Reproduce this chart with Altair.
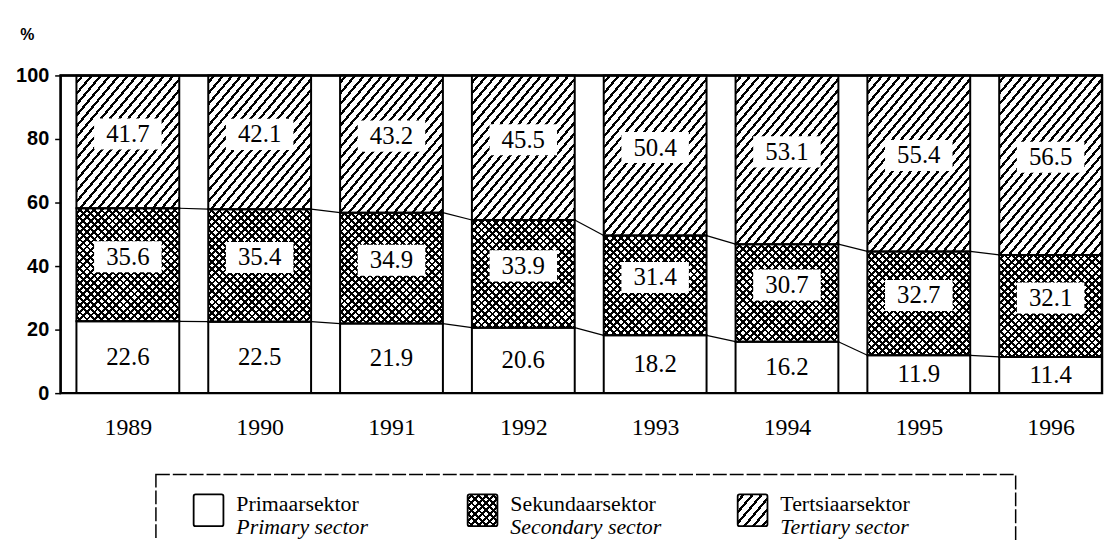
import math
import altair as alt
import pandas as pd

# ---------------- data ----------------
years = [1989, 1990, 1991, 1992, 1993, 1994, 1995, 1996]
primary = [22.6, 22.5, 21.9, 20.6, 18.2, 16.2, 11.9, 11.4]
secondary = [35.6, 35.4, 34.9, 33.9, 31.4, 30.7, 32.7, 32.1]
tertiary = [41.7, 42.1, 43.2, 45.5, 50.4, 53.1, 55.4, 56.5]
y_ticks = [0, 20, 40, 60, 80, 100]
legend_et = ["Primaarsektor", "Sekundaarsektor", "Tertsiaarsektor"]
legend_en = ["Primary sector", "Secondary sector", "Tertiary sector"]

# ---------------- layout constants ----------------
W, H = 1049, 320
X_DOMAIN = [1988.49, 1996.39]
HALF = 0.39
PX_PER_YEAR = W / (X_DOMAIN[1] - X_DOMAIN[0])
PX_PER_PCT = H / 100.0
BAR_W = 2 * HALF * PX_PER_YEAR
SERIF = "Liberation Serif"
SANS = "Liberation Sans"

rows = []
for i, yr in enumerate(years):
    p, s, t = primary[i], secondary[i], tertiary[i]
    rows.append(dict(year=yr, sector="P", value=p, y0=0.0, y1=p))
    rows.append(dict(year=yr, sector="S", value=s, y0=p, y1=p + s))
    rows.append(dict(year=yr, sector="T", value=t, y0=p + s, y1=p + s + t))
df = pd.DataFrame(rows)
df["x0"] = df["year"] - HALF
df["x1"] = df["year"] + HALF
df["mid"] = (df["y0"] + df["y1"]) / 2
df["label"] = df["value"].map(lambda v: f"{v:.1f}")

# connecting lines between bars
lines = []
for i in range(len(years) - 1):
    lev_a = [primary[i], primary[i] + secondary[i]]
    lev_b = [primary[i + 1], primary[i + 1] + secondary[i + 1]]
    for a, b in zip(lev_a, lev_b):
        lines.append(dict(xa=years[i] + HALF, xb=years[i + 1] - HALF, ya=a, yb=b))
lines_df = pd.DataFrame(lines)

# plot frame spans the full scale domains
frame_df = pd.DataFrame({"x0": [X_DOMAIN[0]], "x1": [X_DOMAIN[1]], "y0": [0.0], "y1": [100.0]})

xscale = alt.Scale(domain=X_DOMAIN, nice=False, zero=False)
yscale = alt.Scale(domain=[0, 100], nice=False, zero=True)
xaxis = alt.Axis(values=years, format="d", grid=False, domain=False, ticks=False,
                 tickSize=0, labelFlush=False, labelOverlap=False, labelFont=SERIF,
                 labelFontSize=24, labelColor="black", labelPadding=23, title=None)
yaxis = alt.Axis(values=y_ticks, grid=False, domain=False, ticks=True, tickSize=6,
                 tickWidth=1.5, tickColor="black", labelFont=SANS, labelFontWeight="bold",
                 labelFontSize=20, labelColor="black", labelPadding=6,
                 title="%", titleAngle=0, titleX=-34, titleY=-41, titleFont=SANS,
                 titleFontSize=16, titleFontWeight="bold", titleAlign="center",
                 titleBaseline="middle", titleColor="black")


def hatch(w, h, spacing, lw, angle_deg, direction, fg="black", bg="white"):
    th = math.radians(angle_deg)
    sn, cs = math.sin(th), math.cos(th)
    pmax = w * sn + h * cs
    k = pmax / (w * w * sn * sn + h * h * cs * cs)
    du, dv = k * w * sn, k * h * cs
    if direction == "/":
        coords = dict(x1=0, y1=0, x2=du, y2=dv)
    else:
        coords = dict(x1=0, y1=1, x2=du, y2=1 - dv)
    per = spacing / pmax
    lwt = lw / pmax
    stops = [dict(offset=0, color=bg)]
    t = per * 0.5
    while t < 1:
        a0, a1 = t, min(t + lwt, 1.0)
        stops += [dict(offset=a0, color=bg), dict(offset=a0, color=fg),
                  dict(offset=a1, color=fg), dict(offset=a1, color=bg)]
        t += per
    stops.append(dict(offset=1, color=bg))
    g = dict(gradient="linear", stops=stops)
    g.update(coords)
    return g


def enc_rect(base):
    return base.encode(
        x=alt.X("x0:Q", scale=xscale, axis=xaxis),
        x2="x1:Q",
        y=alt.Y("y0:Q", scale=yscale, axis=yaxis),
        y2="y1:Q",
    )


layers = []
one = pd.DataFrame({"k": [0]})
# white base for all segments
layers.append(enc_rect(alt.Chart(df).mark_rect(fill="white", strokeWidth=0)))

TRANS = "rgba(255,255,255,0)"
for i, yr in enumerate(years):
    # tertiary hatch
    h_t = tertiary[i] * PX_PER_PCT
    g = hatch(BAR_W, h_t, 7.0, 2.3, 50, "/")
    layers.append(enc_rect(alt.Chart(df[(df.year == yr) & (df.sector == "T")])
                           .mark_rect(fill=g, strokeWidth=0)))
    # secondary cross-hatch
    h_s = secondary[i] * PX_PER_PCT
    g1 = hatch(BAR_W, h_s, 5.2, 2.0, 45, "/", bg=TRANS)
    g2 = hatch(BAR_W, h_s, 5.2, 2.0, 45, "\\", bg=TRANS)
    sub = df[(df.year == yr) & (df.sector == "S")]
    layers.append(enc_rect(alt.Chart(sub).mark_rect(fill=g1, strokeWidth=0)))
    layers.append(enc_rect(alt.Chart(sub).mark_rect(fill=g2, strokeWidth=0)))

# outlines
layers.append(enc_rect(alt.Chart(df).mark_rect(fillOpacity=0, stroke="black", strokeWidth=2)))

# plot frame
layers.append(enc_rect(alt.Chart(frame_df).mark_rect(fill="white", fillOpacity=0,
                                                     stroke="black", strokeWidth=2.4)))

# connecting lines
layers.append(alt.Chart(lines_df).mark_rule(color="black", strokeWidth=1.2).encode(
    x=alt.X("xa:Q", scale=xscale, axis=xaxis), x2="xb:Q",
    y=alt.Y("ya:Q", scale=yscale, axis=yaxis), y2="yb:Q"))

# label boxes and labels
upper = df[df.sector != "P"]
lower = df[df.sector == "P"]
box_shape = "M-1,-0.46L1,-0.46L1,0.46L-1,0.46Z"
layers.append(alt.Chart(upper).mark_point(shape=box_shape, size=68 * 68, filled=True,
                                          fill="white", opacity=1, strokeWidth=0, yOffset=-8)
              .encode(x=alt.X("year:Q", scale=xscale, axis=xaxis),
                      y=alt.Y("mid:Q", scale=yscale, axis=yaxis)))
layers.append(alt.Chart(upper).mark_text(font=SERIF, fontSize=25, color="black",
                                         baseline="middle", align="center", yOffset=-8)
              .encode(x=alt.X("year:Q", scale=xscale, axis=xaxis),
                      y=alt.Y("mid:Q", scale=yscale, axis=yaxis), text="label:N"))
layers.append(alt.Chart(lower).mark_text(font=SERIF, fontSize=25, color="black",
                                         baseline="middle", align="center")
              .encode(x=alt.X("year:Q", scale=xscale, axis=xaxis),
                      y=alt.Y("mid:Q", scale=yscale, axis=yaxis), text="label:N"))

# ---------------- legend (drawn below the plot) ----------------
LEG_BOX = (96, 962, 402, 520)
LEG_SYM_X = [134, 410, 682]
SYM_W, SYM_H, SYM_Y = 30, 32, 422
layers.append(alt.Chart(one).mark_rect(fillOpacity=0, stroke="black", strokeWidth=1.5,
                                       strokeDash=[14, 3]).encode(
    x=alt.value(LEG_BOX[0]), x2=alt.value(LEG_BOX[1]),
    y=alt.value(LEG_BOX[2]), y2=alt.value(LEG_BOX[3])))

sym_fills = [
    ["white"],
    [hatch(SYM_W, SYM_H, 5.2, 2.0, 45, "/", bg="white"),
     hatch(SYM_W, SYM_H, 5.2, 2.0, 45, "\\", bg=TRANS)],
    [hatch(SYM_W, SYM_H, 7.0, 2.3, 50, "/")],
]
for j in range(3):
    sx = LEG_SYM_X[j]
    for f in sym_fills[j]:
        layers.append(alt.Chart(one).mark_rect(fill=f, strokeWidth=0).encode(
            x=alt.value(sx), x2=alt.value(sx + SYM_W),
            y=alt.value(SYM_Y), y2=alt.value(SYM_Y + SYM_H)))
    layers.append(alt.Chart(one).mark_rect(fillOpacity=0, stroke="black", strokeWidth=1.8,
                                           cornerRadius=2).encode(
        x=alt.value(sx), x2=alt.value(sx + SYM_W),
        y=alt.value(SYM_Y), y2=alt.value(SYM_Y + SYM_H)))
    t1 = pd.DataFrame({"t": [legend_et[j]]})
    t2 = pd.DataFrame({"t": [legend_en[j]]})
    layers.append(alt.Chart(t1).mark_text(font=SERIF, fontSize=22, color="black",
                                          align="left", baseline="alphabetic").encode(
        x=alt.value(sx + 43), y=alt.value(439), text="t:N"))
    layers.append(alt.Chart(t2).mark_text(font=SERIF, fontSize=22, fontStyle="italic",
                                          color="black", align="left",
                                          baseline="alphabetic").encode(
        x=alt.value(sx + 43), y=alt.value(462), text="t:N"))

chart = alt.layer(*layers).properties(
    width=W, height=H,
    autosize="none",
    background="white",
    padding={"left": 53, "top": 66, "right": 4, "bottom": 146},
).configure_view(stroke="black", strokeWidth=2)

chart.save("out.html", embed_options={"renderer": "svg", "actions": False})
